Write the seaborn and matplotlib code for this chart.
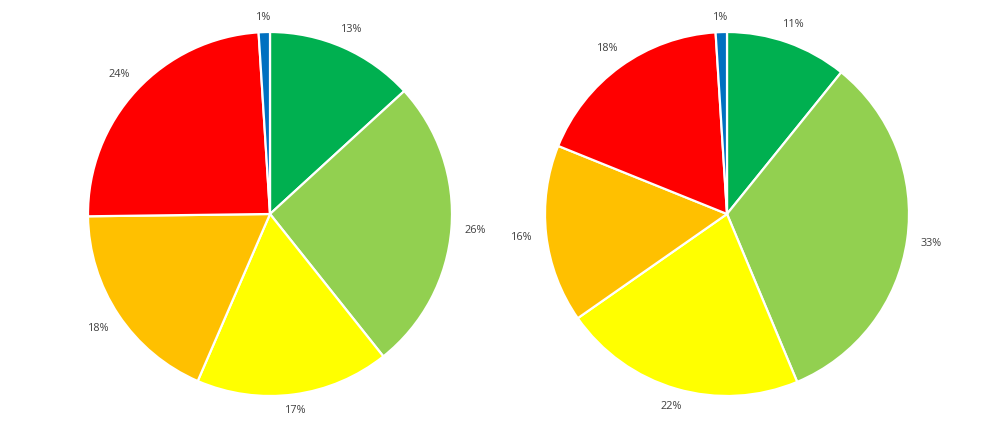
import matplotlib
matplotlib.use("Agg")
import matplotlib.pyplot as plt
import seaborn as sns
import numpy as np

sns.set_theme(style="white")
plt.rcParams['font.family'] = ['Open Sans', 'DejaVu Sans']

colors = ["#00B050", "#92D050", "#FFFF00", "#FFC000", "#FF0000", "#0070C0"]
left_values = [13.2, 26.1, 17.2, 18.3, 24.2, 1.0]
left_labels = ["13%", "26%", "17%", "18%", "24%", "1%"]
right_values = [10.8, 32.9, 21.6, 15.8, 17.9, 1.0]
right_labels = ["11%", "33%", "22%", "16%", "18%", "1%"]

W, H = 998, 428
fig = plt.figure(figsize=(W / 100, H / 100), dpi=100)
fig.patch.set_facecolor("white")

R = 182.0
half_w = 225.0
GAP = 9.0

def draw(cx, values, labels):
    ax = fig.add_axes([(cx - half_w) / W, 0, 2 * half_w / W, 1])
    wedges, texts = ax.pie(values, labels=labels, colors=colors, startangle=90,
                           counterclock=False, labeldistance=1.1,
                           wedgeprops=dict(edgecolor="white", linewidth=1.6),
                           textprops=dict(fontsize=7.8, color="#404040"))
    ax.set_xlim(-half_w / R, half_w / R)
    ax.set_ylim(-(H / 2) / R, (H / 2) / R)
    ax.set_aspect("auto")
    ax.axis("off")
    renderer = fig.canvas.get_renderer()
    for w, t in zip(wedges, texts):
        t.set_ha("center")
        t.set_va("center")
        ang = np.deg2rad((w.theta1 + w.theta2) / 2)
        ux, uy = np.cos(ang), np.sin(ang)
        bb = t.get_window_extent(renderer)
        ext = abs(ux) * (bb.width / 2 + 4) + abs(uy) * bb.height / 2
        r = 1 + (GAP + ext) / R
        t.set_position((r * ux, r * uy))

draw(270, left_values, left_labels)
draw(727, right_values, right_labels)

fig.savefig("out.png", dpi=100, facecolor="white")
